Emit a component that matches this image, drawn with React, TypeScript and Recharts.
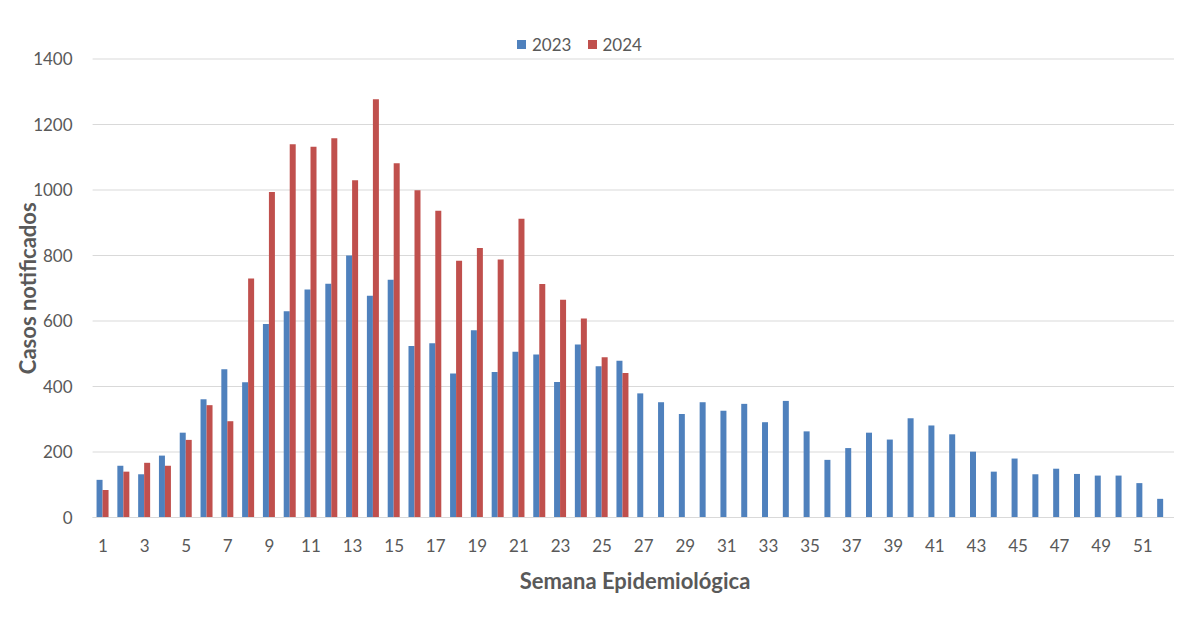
import { BarChart, Bar, XAxis, YAxis, CartesianGrid, Legend } from 'recharts'

const weeks = Array.from({ length: 52 }, (_, i) => String(i + 1))

const cases2023 = [
  115, 158, 132, 189, 259, 361, 453, 413, 591, 630, 696, 714, 800, 677, 726, 524, 532, 440, 572, 444,
  506, 498, 414, 528, 462, 479, 379, 352, 316, 352, 326, 347, 291, 356, 263, 176, 212, 259, 238, 303,
  281, 254, 201, 140, 180, 132, 149, 133, 128, 128, 105, 57
]

const cases2024 = [
  84, 140, 167, 158, 237, 343, 294, 730, 994, 1140, 1132, 1158, 1030, 1277, 1082, 999, 937, 784, 823, 788,
  912, 713, 665, 608, 489, 441
]

const yTicks = [0, 200, 400, 600, 800, 1000, 1200, 1400]

const data = weeks.map((w, i) => ({
  week: w,
  y2023: cases2023[i],
  y2024: i < cases2024.length ? cases2024[i] : null
}))

const BLUE = '#4f81bd'
const RED = '#c0504d'
const TEXT = '#595959'
const FONT = 'Lato, "Open Sans", sans-serif'

// axis titles drawn by hand so the rotation stays centred
const YTitle = ({ viewBox }: any) => {
  const cx = 19
  const cy = viewBox.y + viewBox.height / 2
  return (
    <text
      x={cx}
      y={cy}
      transform={`rotate(-90, ${cx}, ${cy})`}
      textAnchor="middle"
      dominantBaseline="central"
      fill={TEXT}
      fontWeight="bold"
      fontSize={22}
      fontFamily={FONT}
    >
      Casos notificados
    </text>
  )
}

const XTitle = ({ viewBox }: any) => (
  <text
    x={627}
    y={viewBox.y + 63}
    textAnchor="middle"
    dominantBaseline="central"
    fill={TEXT}
    fontWeight="bold"
    fontSize={22}
    fontFamily={FONT}
  >
    Semana Epidemiológica
  </text>
)

const renderLegend = () => (
  <div style={{ display: 'flex', alignItems: 'center', fontFamily: FONT, fontSize: 17, color: TEXT }}>
    <span style={{ width: 9, height: 9, background: BLUE, marginRight: 6 }} />
    <span style={{ marginRight: 17 }}>2023</span>
    <span style={{ width: 9, height: 9, background: RED, marginRight: 5 }} />
    <span>2024</span>
  </div>
)

export default function App() {
  return (
    <div
      style={{
        marginLeft: -1,
        marginTop: -2,
        width: 1181,
        height: 606,
        borderLeft: '1px solid #d9d9d9',
        borderTop: '1px solid #d9d9d9',
        background: '#fff'
      }}
    >
      <BarChart
        width={1180}
        height={606}
        data={data}
        margin={{ top: 52, right: 14, left: 0, bottom: 0 }}
        barCategoryGap="19%"
        barGap={0}
      >
        <CartesianGrid vertical={false} stroke="#d9d9d9" />
        <XAxis
          dataKey="week"
          interval={1}
          height={95.5}
          tickLine={false}
          axisLine={{ stroke: '#d9d9d9' }}
          tickMargin={16}
          tick={{ fill: TEXT, fontSize: 17, fontFamily: FONT }}
          label={<XTitle />}
        />
        <YAxis
          width={84.6}
          domain={[0, 1400]}
          ticks={yTicks}
          tickLine={false}
          axisLine={false}
          tickMargin={14}
          tick={{ fill: TEXT, fontSize: 17, fontFamily: FONT }}
          label={<YTitle />}
        />
        <Legend
          verticalAlign="middle"
          align="center"
          content={renderLegend}
          wrapperStyle={{ top: 27, left: 509, width: 'auto' }}
        />
        <Bar dataKey="y2023" name="2023" fill={BLUE} isAnimationActive={false} />
        <Bar dataKey="y2024" name="2024" fill={RED} isAnimationActive={false} />
      </BarChart>
    </div>
  )
}
